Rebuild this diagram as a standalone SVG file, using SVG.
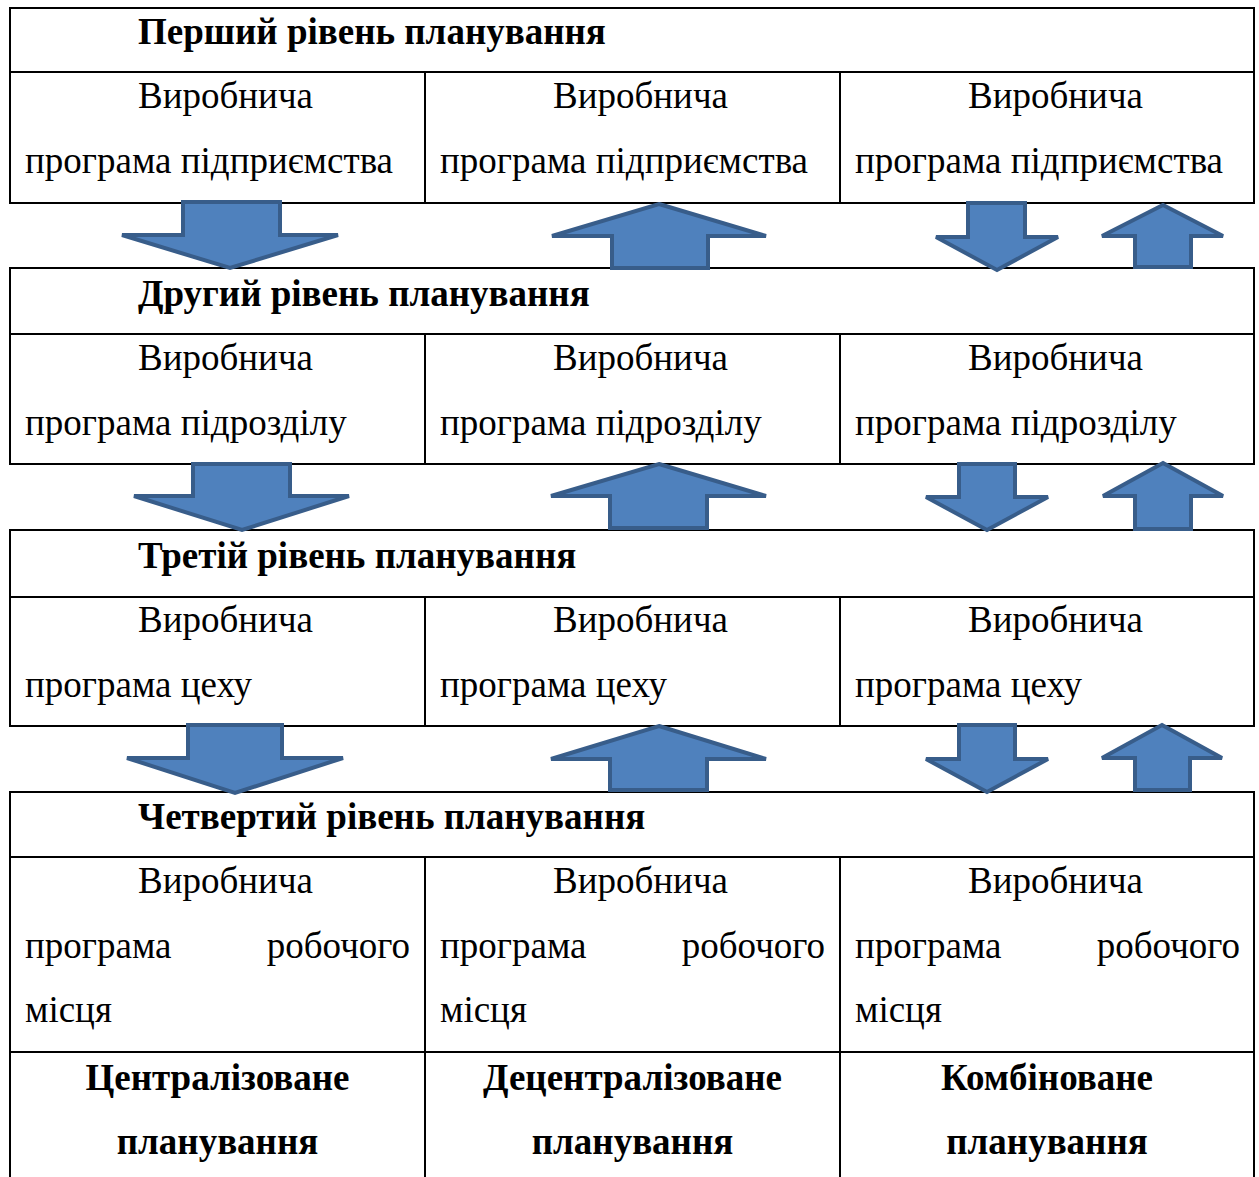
<svg xmlns="http://www.w3.org/2000/svg" width="1259" height="1177" viewBox="0 0 1259 1177">
<style>
.cell{fill:#fff;stroke:#000;stroke-width:2}
.t{font-family:"Liberation Serif","Times New Roman",serif;font-size:37px;fill:#000}
.b{font-weight:bold}
.arr{fill:#4F81BD;stroke:#385D8A;stroke-width:4;stroke-linejoin:miter}
</style>
<rect width="1259" height="1177" fill="#fff"/>
<!-- Level 1 -->
<g id="level1-header"><rect class="cell" x="10" y="8" width="1244" height="64"/><text class="t b" x="138" y="44">Перший рівень планування</text></g>
<g id="level1-c1"><rect class="cell" x="10" y="72" width="415" height="131"/><text class="t" x="138" y="108">Виробнича</text><text class="t" x="25" y="173">програма підприємства</text></g>
<g id="level1-c2"><rect class="cell" x="425" y="72" width="415" height="131"/><text class="t" x="553" y="108">Виробнича</text><text class="t" x="440" y="173">програма підприємства</text></g>
<g id="level1-c3"><rect class="cell" x="840" y="72" width="414" height="131"/><text class="t" x="968" y="108">Виробнича</text><text class="t" x="855" y="173">програма підприємства</text></g>
<!-- Level 2 -->
<g id="level2-header"><rect class="cell" x="10" y="268" width="1244" height="66"/><text class="t b" x="138" y="306">Другий рівень планування</text></g>
<g id="level2-c1"><rect class="cell" x="10" y="334" width="415" height="130"/><text class="t" x="138" y="370">Виробнича</text><text class="t" x="25" y="435">програма підрозділу</text></g>
<g id="level2-c2"><rect class="cell" x="425" y="334" width="415" height="130"/><text class="t" x="553" y="370">Виробнича</text><text class="t" x="440" y="435">програма підрозділу</text></g>
<g id="level2-c3"><rect class="cell" x="840" y="334" width="414" height="130"/><text class="t" x="968" y="370">Виробнича</text><text class="t" x="855" y="435">програма підрозділу</text></g>
<!-- Level 3 -->
<g id="level3-header"><rect class="cell" x="10" y="530" width="1244" height="67"/><text class="t b" x="138" y="568">Третій рівень планування</text></g>
<g id="level3-c1"><rect class="cell" x="10" y="597" width="415" height="129"/><text class="t" x="138" y="632">Виробнича</text><text class="t" x="25" y="697">програма цеху</text></g>
<g id="level3-c2"><rect class="cell" x="425" y="597" width="415" height="129"/><text class="t" x="553" y="632">Виробнича</text><text class="t" x="440" y="697">програма цеху</text></g>
<g id="level3-c3"><rect class="cell" x="840" y="597" width="414" height="129"/><text class="t" x="968" y="632">Виробнича</text><text class="t" x="855" y="697">програма цеху</text></g>
<!-- Level 4 -->
<g id="level4-header"><rect class="cell" x="10" y="792" width="1244" height="65"/><text class="t b" x="138" y="829">Четвертий рівень планування</text></g>
<g id="level4-c1"><rect class="cell" x="10" y="857" width="415" height="195"/><text class="t" x="138" y="893">Виробнича</text><text class="t" x="25" y="958">програма</text><text class="t" x="410" y="958" text-anchor="end">робочого</text><text class="t" x="25" y="1022">місця</text></g>
<g id="level4-c2"><rect class="cell" x="425" y="857" width="415" height="195"/><text class="t" x="553" y="893">Виробнича</text><text class="t" x="440" y="958">програма</text><text class="t" x="825" y="958" text-anchor="end">робочого</text><text class="t" x="440" y="1022">місця</text></g>
<g id="level4-c3"><rect class="cell" x="840" y="857" width="414" height="195"/><text class="t" x="968" y="893">Виробнича</text><text class="t" x="855" y="958">програма</text><text class="t" x="1240" y="958" text-anchor="end">робочого</text><text class="t" x="855" y="1022">місця</text></g>
<!-- Bottom row -->
<g id="type-centralized"><rect class="cell" x="10" y="1052" width="415" height="140"/><text class="t b" x="217.5" y="1090" text-anchor="middle">Централізоване</text><text class="t b" x="217.5" y="1154" text-anchor="middle">планування</text></g>
<g id="type-decentralized"><rect class="cell" x="425" y="1052" width="415" height="140"/><text class="t b" x="632.5" y="1090" text-anchor="middle">Децентралізоване</text><text class="t b" x="632.5" y="1154" text-anchor="middle">планування</text></g>
<g id="type-combined"><rect class="cell" x="840" y="1052" width="414" height="140"/><text class="t b" x="1047" y="1090" text-anchor="middle">Комбіноване</text><text class="t b" x="1047" y="1154" text-anchor="middle">планування</text></g>
<!-- Connectors (block arrows) -->
<g id="connectors">
<path class="arr" d="M183,202 L280,202 L280,235 L338,235 L230,268 L122,235 L183,235 Z"/>
<path class="arr" d="M659,204 L766,236 L708,236 L708,268 L612,268 L612,236 L552,236 Z"/>
<path class="arr" d="M968,203 L1025,203 L1025,237 L1058,237 L997,270 L936,237 L968,237 Z"/>
<path class="arr" d="M1163,205 L1223,236 L1191,236 L1191,267 L1135,267 L1135,236 L1102,236 Z"/>

<path class="arr" d="M193,464 L290,464 L290,496 L349,496 L242,530 L134,496 L193,496 Z"/>
<path class="arr" d="M659,464 L766,496 L707,496 L707,528 L610,528 L610,496 L551,496 Z"/>
<path class="arr" d="M959,464 L1015,464 L1015,497 L1048,497 L987,530 L926,497 L959,497 Z"/>
<path class="arr" d="M1163,463 L1223,496 L1191,496 L1191,529 L1135,529 L1135,496 L1103,496 Z"/>

<path class="arr" d="M188,725 L282,725 L282,758 L343,758 L235,793 L127,758 L188,758 Z"/>
<path class="arr" d="M659,726 L766,759 L707,759 L707,790 L610,790 L610,759 L551,759 Z"/>
<path class="arr" d="M959,725 L1015,725 L1015,759 L1048,759 L987,792 L926,759 L959,759 Z"/>
<path class="arr" d="M1162,725 L1222,758 L1190,758 L1190,790 L1135,790 L1135,758 L1102,758 Z"/>
</g>
</svg>
